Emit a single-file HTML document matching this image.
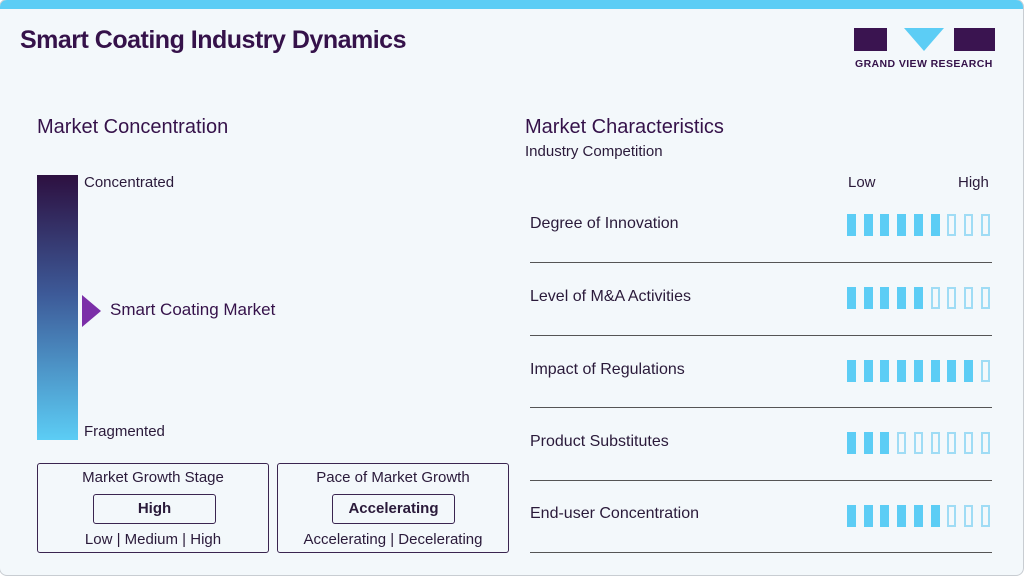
<!DOCTYPE html>
<html><head><style>
body{margin:0;width:1025px;height:576px;overflow:hidden;font-family:"Liberation Sans",sans-serif;color:#2a1a3a}
.card{position:absolute;left:-1px;top:-1px;width:1023px;height:575px;background:#f3f8fb;border:1px solid #c8cdd2;border-radius:8px;overflow:hidden}
.top{position:absolute;left:0;top:0;width:100%;height:9px;background:#5ccdf5}
.a{position:absolute;white-space:nowrap}
.bar{position:absolute;width:9px;height:22px;box-sizing:border-box}
.f{background:#5ccdf5}
.o{border:2px solid #9fdcf5}
.sep{position:absolute;left:530px;width:462px;height:1px;background:#555}
.box{position:absolute;border:1.5px solid #3a2550;border-radius:3px;box-sizing:border-box}
</style></head><body>
<div class="card">
<div class="top"></div>
<div class="a" style="left:20px;top:26px;font-size:25px;font-weight:bold;color:#35124a;letter-spacing:-0.5px">Smart Coating Industry Dynamics</div>
<div class="a" style="left:854px;top:28px;width:33px;height:23px;background:#3a1450"></div>
<div class="a" style="left:904px;top:28px;width:0;height:0;border-left:20px solid transparent;border-right:20px solid transparent;border-top:23px solid #5ccdf5"></div>
<div class="a" style="left:954px;top:28px;width:41px;height:23px;background:#3a1450"></div>
<div class="a" style="left:855px;top:58px;font-size:10.5px;font-weight:bold;color:#35124a;letter-spacing:0.4px">GRAND VIEW RESEARCH</div>

<div class="a" style="left:37px;top:116px;font-size:20px;color:#35124a">Market Concentration</div>
<div class="a" style="left:37px;top:175px;width:41px;height:265px;background:linear-gradient(#2d1040,#3d5a98 45%,#5ccdf5)"></div>
<div class="a" style="left:84px;top:174px;font-size:15px">Concentrated</div>
<div class="a" style="left:84px;top:423px;font-size:15px">Fragmented</div>
<div class="a" style="left:82px;top:295px;width:0;height:0;border-top:16px solid transparent;border-bottom:16px solid transparent;border-left:19px solid #7b2fa8"></div>
<div class="a" style="left:110px;top:300px;font-size:17px;color:#35124a">Smart Coating Market</div>

<div class="box" style="left:37px;top:463px;width:232px;height:90px"></div>
<div class="a" style="left:37px;top:469px;width:232px;text-align:center;font-size:15px">Market Growth Stage</div>
<div class="box" style="left:93px;top:494px;width:123px;height:30px"></div>
<div class="a" style="left:93px;top:500px;width:123px;text-align:center;font-size:15px;font-weight:bold">High</div>
<div class="a" style="left:37px;top:531px;width:232px;text-align:center;font-size:15px">Low | Medium | High</div>

<div class="box" style="left:277px;top:463px;width:232px;height:90px"></div>
<div class="a" style="left:277px;top:469px;width:232px;text-align:center;font-size:15px">Pace of Market Growth</div>
<div class="box" style="left:332px;top:494px;width:123px;height:30px"></div>
<div class="a" style="left:332px;top:500px;width:123px;text-align:center;font-size:15px;font-weight:bold">Accelerating</div>
<div class="a" style="left:277px;top:531px;width:232px;text-align:center;font-size:15px">Accelerating | Decelerating</div>

<div class="a" style="left:525px;top:116px;font-size:20px;color:#35124a">Market Characteristics</div>
<div class="a" style="left:525px;top:143px;font-size:15px">Industry Competition</div>
<div class="a" style="left:848px;top:174px;font-size:15px">Low</div>
<div class="a" style="left:958px;top:174px;font-size:15px">High</div>

<div class="a" style="left:530px;top:215px;font-size:16px">Degree of Innovation</div>
<div class="a" style="left:530px;top:288px;font-size:16px">Level of M&amp;A Activities</div>
<div class="a" style="left:530px;top:361px;font-size:16px">Impact of Regulations</div>
<div class="a" style="left:530px;top:433px;font-size:16px">Product Substitutes</div>
<div class="a" style="left:530px;top:505px;font-size:16px">End-user Concentration</div>
<div class="sep" style="top:262px"></div>
<div class="sep" style="top:335px"></div>
<div class="sep" style="top:407px"></div>
<div class="sep" style="top:480px"></div>
<div class="sep" style="top:552px"></div>
<div id="bars"></div>
</div>
<script>
var rows=[[214,6],[287,5],[360,8],[432,3],[505,6]],h='';
rows.forEach(function(r){for(var i=0;i<9;i++){h+='<div class="bar '+(i<r[1]?'f':'o')+'" style="left:'+(847+i*16.7)+'px;top:'+r[0]+'px"></div>';}});
document.getElementById('bars').innerHTML=h;
</script>
</body></html>
